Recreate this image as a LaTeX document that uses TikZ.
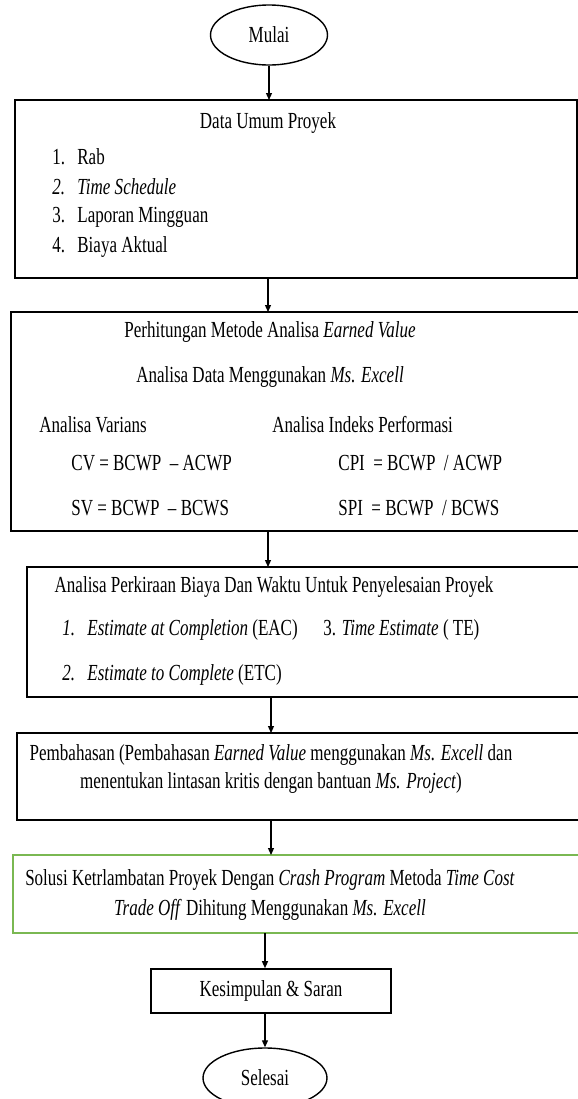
\documentclass[tikz,border=0pt]{standalone}
\usepackage{fontspec}
\setmainfont{Liberation Serif}[FakeStretch=0.74]
\usetikzlibrary{positioning, arrows.meta, shapes.geometric}
\definecolor{solgreen}{RGB}{122,184,82}
\newcommand{\itm}[2]{\makebox[12.5pt][l]{#1}#2}

\begin{document}
\begin{tikzpicture}[x=0.5pt, y=-0.5pt, font=\fontsize{11.5}{14}\selectfont,
       >={Triangle[length=3.5pt, width=3pt]},
       term/.style={draw, ellipse, line width=0.7pt, minimum width=58.5pt,
                    minimum height=30pt, inner sep=0pt},
       box/.style={draw, line width=0.8pt, anchor=north west, inner sep=0pt, outer sep=0pt},
       txt/.style={anchor=west, inner sep=0pt},
       ttl/.style={inner sep=0pt, align=center},
       arr/.style={->, line width=0.6pt}]
     \path[use as bounding box, clip] (0,0) rectangle (578,1099);
     % start
     \node[term] (mulai) at (269,35) {Mulai};
     % data umum
     \node[box, minimum width=281pt, minimum height=89pt] (data) at (15,100) {};
     \node[ttl] (dataT) at (268,123) {Data Umum Proyek};
     \node[txt] (d1) at (52,157) {\itm{1.}{Rab}};
     \node[txt] (d2) at (52,187) {\itm{\textit{2.}}{\textit{Time Schedule}}};
     \node[txt] (d3) at (52,217) {\itm{3.}{Laporan Mingguan}};
     \node[txt] (d4) at (52,247) {\itm{4.}{Biaya Aktual}};
     % earned value
     \node[box, minimum width=294.5pt, minimum height=109.5pt] (ev) at (11,312) {};
     \node[ttl] (evT) at (270,332) {Perhitungan Metode Analisa \textit{Earned Value}};
     \node[ttl] (evS) at (270,377) {Analisa Data Menggunakan \textit{Ms. Excell}};
     \node[txt] (var) at (39,425) {Analisa Varians};
     \node[txt] (idx) at (272,425) {Analisa Indeks Performasi};
     \node[txt] (cv) at (71,463) {CV = BCWP~ – ACWP};
     \node[txt] (sv) at (71,508) {SV = BCWP~ – BCWS};
     \node[txt] (cpi) at (338,463) {CPI~ = BCWP~ / ACWP};
     \node[txt] (spi) at (338,508) {SPI~ = BCWP~ / BCWS};
     % perkiraan
     \node[box, minimum width=286.5pt, minimum height=65pt] (est) at (27,567) {};
     \node[ttl] (estT) at (274,587) {Analisa Perkiraan Biaya Dan Waktu Untuk Penyelesaian Proyek};
     \node[txt] (eac) at (62,630) {\itm{\textit{1.}}{\textit{Estimate at Completion} (EAC)}};
     \node[txt] (te) at (323,630) {3. \textit{Time Estimate} ( TE)};
     \node[txt] (etc) at (62,675) {\itm{\textit{2.}}{\textit{Estimate to Complete} (ETC)}};
     % pembahasan
     \node[box, minimum width=291.5pt, minimum height=43.5pt] (bahas) at (17,733) {};
     \node[ttl] (bahasT) at (271,769) {Pembahasan (Pembahasan \textit{Earned Value} menggunakan
        \textit{Ms. Excell} dan\\menentukan lintasan kritis dengan bantuan \textit{Ms. Project})};
     % solusi
     \node[box, draw=solgreen, minimum width=293.5pt, minimum height=39pt] (sol) at (13,855) {};
     \node[ttl, font=\fontsize{11.5}{15}\selectfont] (solT) at (270,895)
        {Solusi Ketrlambatan Proyek Dengan \textit{Crash Program} Metoda \textit{Time Cost}\\
         \textit{Trade Off} Dihitung Menggunakan \textit{Ms. Excell}};
     % akhir
     \node[draw, line width=0.8pt, minimum width=120pt, minimum height=22pt, inner sep=0pt]
        (simp) at (271,991) {Kesimpulan \& Saran};
     \node[term, minimum width=62pt] (selesai) at (265,1078) {Selesai};
     % arrows
     \draw[arr] (mulai.south) -- (mulai.south |- data.north);
     \draw[arr] (dataT |- data.south) -- (dataT |- ev.north);
     \draw[arr] (dataT |- ev.south) -- (dataT |- est.north);
     \draw[arr] (bahasT |- est.south) -- (bahasT |- bahas.north);
     \draw[arr] (bahasT |- bahas.south) -- (bahasT |- sol.north);
     \draw[arr] (selesai.north |- sol.south) -- (selesai.north |- simp.north);
     \draw[arr] (selesai.north |- simp.south) -- (selesai.north);
   \end{tikzpicture}
\end{document}
